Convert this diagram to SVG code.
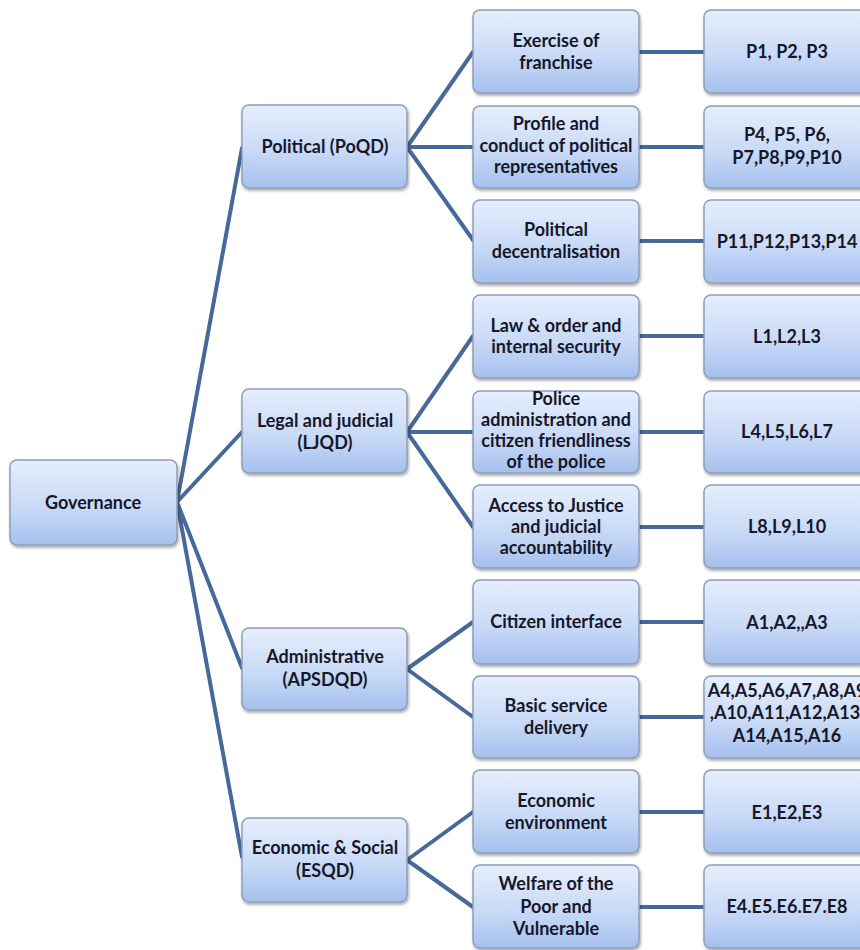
<svg xmlns="http://www.w3.org/2000/svg" width="860" height="950" viewBox="0 0 860 950">
<defs>
<linearGradient id="g" x1="0" y1="0" x2="0" y2="1">
<stop offset="0" stop-color="#e6eefc"/>
<stop offset="0.55" stop-color="#c9daf7"/>
<stop offset="1" stop-color="#a5c0ee"/>
</linearGradient>
<filter id="sh" x="-10%" y="-10%" width="125%" height="130%">
<feDropShadow dx="1" dy="2" stdDeviation="1.5" flood-color="#000" flood-opacity="0.35"/>
</filter>
<style>
.b{fill:url(#g);stroke:#8f9fb8;stroke-width:1.5;filter:url(#sh)}
.t{font-family:Lato,"Open Sans","Liberation Sans",sans-serif;font-weight:bold;font-size:18px;fill:#16182a;text-anchor:middle}
.c{stroke:#47699a;stroke-width:4;fill:none;stroke-linecap:round}
</style>
</defs>
<rect width="860" height="950" fill="#fff"/>
<g id="connectors" class="c">
<path d="M177 502L242 148M177 502L242 432M177 502L242 668M177 502L242 857"/>
<path d="M407 147L473 52M407 147L473 147M407 147L473 240"/>
<path d="M407 432L473 336M407 432L473 432M407 432L473 527"/>
<path d="M407 669L473 622M407 669L473 717"/>
<path d="M407 860L473 812M407 860L473 907"/>
<path d="M639 52H704M639 147H704M639 241H704M639 336H704M639 432H704M639 527H704M639 622H704M639 717H704M639 812H704M639 907H704"/>
</g>
<g id="governance"><rect class="b" x="10" y="460" width="167" height="85" rx="7"/><text class="t" x="93" y="509">Governance</text></g>
<g id="political"><rect class="b" x="242" y="105" width="165" height="83" rx="7"/><text class="t" x="325" y="153">Political (PoQD)</text></g>
<g id="legal"><rect class="b" x="242" y="389" width="165" height="84" rx="7"/><text class="t" x="325" y="427">Legal and judicial<tspan x="325" y="449">(LJQD)</tspan></text></g>
<g id="administrative"><rect class="b" x="242" y="628" width="165" height="82" rx="7"/><text class="t" x="325" y="663">Administrative<tspan x="325" y="686">(APSDQD)</tspan></text></g>
<g id="economic"><rect class="b" x="242" y="818" width="165" height="84" rx="7"/><text class="t" x="325" y="854">Economic &amp; Social<tspan x="325" y="877">(ESQD)</tspan></text></g>

<g id="franchise"><rect class="b" x="473" y="10" width="166" height="83" rx="7"/><text class="t" x="556" y="47">Exercise of<tspan x="556" y="69">franchise</tspan></text></g>
<g id="profile"><rect class="b" x="473" y="106" width="166" height="82" rx="7"/><text class="t" x="556" y="130">Profile and<tspan x="556" y="152">conduct of political</tspan><tspan x="556" y="173">representatives</tspan></text></g>
<g id="decentralisation"><rect class="b" x="473" y="200" width="166" height="83" rx="7"/><text class="t" x="556" y="236">Political<tspan x="556" y="258">decentralisation</tspan></text></g>
<g id="laworder"><rect class="b" x="473" y="295" width="166" height="83" rx="7"/><text class="t" x="556" y="332">Law &amp; order and<tspan x="556" y="353">internal security</tspan></text></g>
<g id="police"><rect class="b" x="473" y="391" width="166" height="82" rx="7"/><text class="t" x="556" y="405">Police<tspan x="556" y="426">administration and</tspan><tspan x="556" y="447">citizen friendliness</tspan><tspan x="556" y="468">of the police</tspan></text></g>
<g id="justice"><rect class="b" x="473" y="485" width="166" height="83" rx="7"/><text class="t" x="556" y="512">Access to Justice<tspan x="556" y="533">and judicial</tspan><tspan x="556" y="554">accountability</tspan></text></g>
<g id="citizen"><rect class="b" x="473" y="580" width="166" height="84" rx="7"/><text class="t" x="556" y="628">Citizen interface</text></g>
<g id="basic"><rect class="b" x="473" y="676" width="166" height="82" rx="7"/><text class="t" x="556" y="712">Basic service<tspan x="556" y="734">delivery</tspan></text></g>
<g id="econenv"><rect class="b" x="473" y="770" width="166" height="83" rx="7"/><text class="t" x="556" y="807">Economic<tspan x="556" y="829">environment</tspan></text></g>
<g id="welfare"><rect class="b" x="473" y="865" width="166" height="83" rx="7"/><text class="t" x="556" y="890">Welfare of the<tspan x="556" y="913">Poor and</tspan><tspan x="556" y="935">Vulnerable</tspan></text></g>

<g id="p1"><rect class="b" x="704" y="10" width="166" height="83" rx="7"/><text class="t" x="787" y="58">P1, P2, P3</text></g>
<g id="p4"><rect class="b" x="704" y="106" width="166" height="82" rx="7"/><text class="t" x="787" y="141">P4, P5, P6,<tspan x="787" y="164">P7,P8,P9,P10</tspan></text></g>
<g id="p11"><rect class="b" x="704" y="200" width="166" height="83" rx="7"/><text class="t" x="787" y="248">P11,P12,P13,P14</text></g>
<g id="l1"><rect class="b" x="704" y="295" width="166" height="83" rx="7"/><text class="t" x="787" y="343">L1,L2,L3</text></g>
<g id="l4"><rect class="b" x="704" y="391" width="166" height="82" rx="7"/><text class="t" x="787" y="438">L4,L5,L6,L7</text></g>
<g id="l8"><rect class="b" x="704" y="485" width="166" height="83" rx="7"/><text class="t" x="787" y="533">L8,L9,L10</text></g>
<g id="a1"><rect class="b" x="704" y="580" width="166" height="84" rx="7"/><text class="t" x="787" y="629">A1,A2,,A3</text></g>
<g id="a4"><rect class="b" x="704" y="676" width="166" height="82" rx="7"/><text class="t" x="787" y="697">A4,A5,A6,A7,A8,A9<tspan x="787" y="719">,A10,A11,A12,A13,</tspan><tspan x="787" y="742">A14,A15,A16</tspan></text></g>
<g id="e1"><rect class="b" x="704" y="770" width="166" height="83" rx="7"/><text class="t" x="787" y="819">E1,E2,E3</text></g>
<g id="e4"><rect class="b" x="704" y="865" width="166" height="83" rx="7"/><text class="t" x="787" y="913">E4.E5.E6.E7.E8</text></g>
</svg>
